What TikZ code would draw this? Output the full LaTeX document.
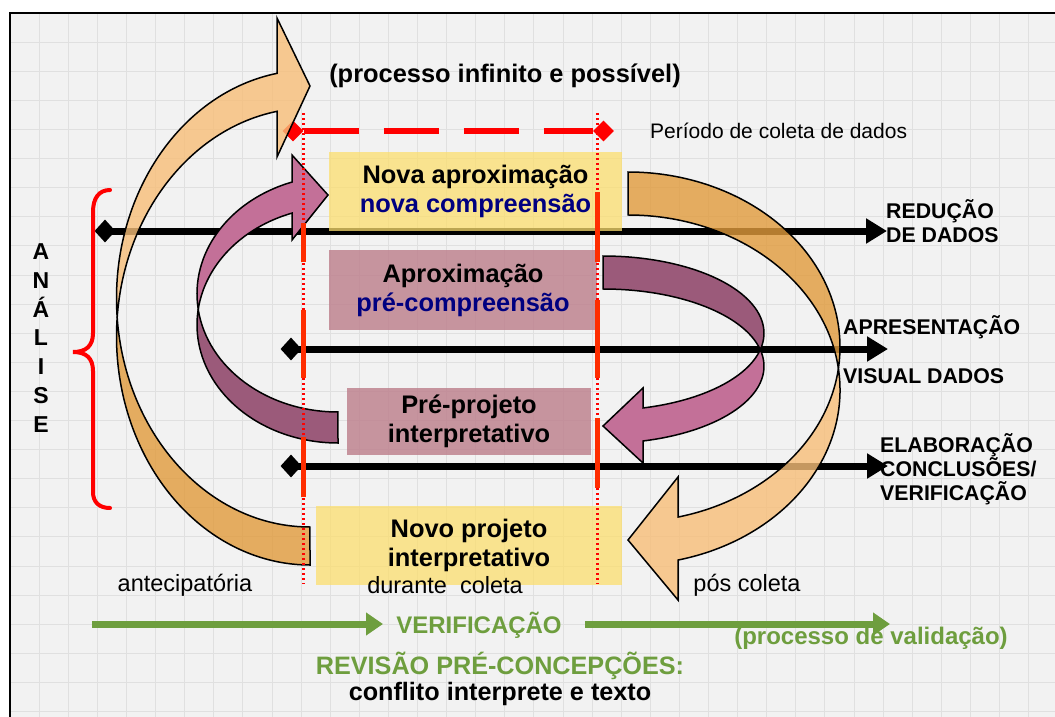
\documentclass[tikz,border=0pt]{standalone}
\usepackage{fontspec}
\setmainfont{Liberation Sans}
\usetikzlibrary{arrows.meta,shapes.geometric}
\definecolor{panelgray}{RGB}{242,242,242}
\definecolor{gridgray}{RGB}{224,224,224}
\definecolor{boxyellow}{RGB}{252,222,110}
\definecolor{boxmauve}{RGB}{188,125,138}
\definecolor{orangelight}{RGB}{247,190,120}
\definecolor{orangedark}{RGB}{225,155,60}
\definecolor{purplelight}{RGB}{195,112,152}
\definecolor{purpledark}{RGB}{155,90,122}
\definecolor{navytext}{RGB}{0,0,128}
\definecolor{verifgreen}{RGB}{110,158,62}
\definecolor{barred}{RGB}{255,45,0}

\begin{document}
\begin{tikzpicture}[x=1pt, y=-1pt,
        gridline/.style={draw=gridgray, line width=0.8pt},
        blackarrow/.style={line width=7pt, -{Triangle[length=21pt,width=24pt]}},
        blackdiamond/.style={shape=diamond, fill=black, inner sep=0pt, minimum width=21pt, minimum height=23pt},
        reddiamond/.style={shape=diamond, fill=red, inner sep=0pt, minimum width=21pt, minimum height=21pt},
        reddash/.style={red, line width=6pt, dash pattern=on 55pt off 25pt},
        reddots/.style={red, line width=2.2pt, dash pattern=on 2.2pt off 2.8pt},
        thickbar/.style={barred, line width=5.5pt},
        boxtext/.style={font=\bfseries\fontsize{25.4}{29}\selectfont, align=center},
        yellowbox/.style={boxtext, fill=boxyellow, fill opacity=0.75, text opacity=1, inner sep=0pt},
        mauvebox/.style={boxtext, fill=boxmauve, fill opacity=0.8, text opacity=1, inner sep=0pt},
        sidelabel/.style={font=\bfseries\fontsize{21.3}{24}\selectfont, align=left, anchor=west, inner sep=0pt},
        plainlabel/.style={font=\fontsize{23.5}{27}\selectfont, inner sep=0pt},
        greenarrow/.style={verifgreen, line width=7pt, -{Triangle[length=17pt,width=22pt]}},
        greenlabel/.style={text=verifgreen, font=\bfseries\fontsize{25.2}{28}\selectfont, inner sep=0pt},
        curvearrow/.style={draw=black, line width=1.5pt, line join=miter}]
        \useasboundingbox (0,0) rectangle (1055,717);
        \clip (0,0) rectangle (1055,717);
        % Panel and grid
        \fill[white] (0,0) rectangle (1055,717);
        \fill[panelgray] (10,13) rectangle (1070,730);
        \foreach \i in {1,...,36} {
          \draw[gridline] ({10+29.1*\i},13) -- ({10+29.1*\i},730);
        }
        \foreach \j in {1,...,24} {
          \draw[gridline] (10,{13+29.1*\j}) -- (1070,{13+29.1*\j});
        }
        \draw[line width=2pt] (10,13) rectangle (1070,730);
        % Black arrows
        \node[blackdiamond] (d1) at (105,231) {};
        \node[blackdiamond] (d2) at (291,349) {};
        \node[blackdiamond] (d3) at (291,466) {};
        \coordinate (e1) at (887,231);
        \coordinate (e2) at (888,349);
        \coordinate (e3) at (888,466);
        \draw[blackarrow] (d1.center) -- (e1);
        \draw[blackarrow] (d2.center) -- (e2);
        \draw[blackarrow] (d3.center) -- (e3);
        % Boxes
        \node[yellowbox, minimum width=293pt, minimum height=79pt] (novaaprox) at (475.5,191.5) {Nova aproximação\\\textcolor{navytext}{nova compreensão}};
        \node[mauvebox, minimum width=268pt, minimum height=80pt] (aprox) at (463,290) {Aproximação\\\textcolor{navytext}{pré-compreensão}};
        \node[mauvebox, minimum width=244pt, minimum height=67pt] (preproj) at (469,421.5) {Pré-projeto\\interpretativo};
        \node[yellowbox, minimum width=306pt, minimum height=79pt] (novoproj) at (469,545.5) {Novo projeto\\interpretativo};
        % Collection period
        \node[reddiamond] (rl) at (293,131) {};
        \node[reddiamond] (rr) at (603.5,131) {};
        \draw[reddash] (rl) -- (rr);
        % Curved arrows
        \filldraw[curvearrow, fill=orangelight, fill opacity=0.8] (310,86) -- (277,18) -- (277,73.35)
          arc[start angle=99.82, end angle=184.77, x radius=193.5pt, y radius=228.5pt]
          arc[start angle=175.23, end angle=99.82, x radius=193.5pt, y radius=228.5pt] -- (277,157) -- cycle;
        \filldraw[curvearrow, fill=orangedark, fill opacity=0.8] (117.17,317.5)
          arc[start angle=184.77, end angle=270, x radius=193.5pt, y radius=228.5pt] -- (310,565)
          arc[start angle=270, end angle=175.23, x radius=193.5pt, y radius=228.5pt] -- cycle;
        \filldraw[curvearrow, fill=orangedark, fill opacity=0.8] (628,172)
          arc[start angle=90, end angle=-7.057, x radius=212pt, y radius=175pt]
          arc[start angle=7.057, end angle=90, x radius=212pt, y radius=175pt] -- cycle;
        \filldraw[curvearrow, fill=orangelight, fill opacity=0.8] (628,540) -- (678,477) -- (678,517.06)
          arc[start angle=-76.36, end angle=-7.057, x radius=212pt, y radius=175pt]
          arc[start angle=7.057, end angle=-76.36, x radius=212pt, y radius=175pt] -- (678,600) -- cycle;
        \filldraw[curvearrow, fill=purplelight] (328,195) -- (292,155) -- (292,182.07)
          arc[start angle=109.04, end angle=187.54, x radius=141pt, y radius=118.2pt]
          arc[start angle=172.46, end angle=109.04, x radius=141pt, y radius=118.2pt] -- (292,240) -- cycle;
        \filldraw[curvearrow, fill=purpledark] (198.2,309.3)
          arc[start angle=187.54, end angle=270, x radius=141pt, y radius=118.2pt] -- (338,443)
          arc[start angle=270, end angle=172.46, x radius=141pt, y radius=118.2pt] -- cycle;
        \filldraw[curvearrow, fill=purpledark] (603,256)
          arc[start angle=90, end angle=-12.34, x radius=161pt, y radius=77.2pt]
          arc[start angle=12.34, end angle=90, x radius=161pt, y radius=77.2pt] -- cycle;
        \filldraw[curvearrow, fill=purplelight] (603,426) -- (643,388) -- (643,407.98)
          arc[start angle=-75.61, end angle=-12.34, x radius=161pt, y radius=77.2pt]
          arc[start angle=12.34, end angle=-75.61, x radius=161pt, y radius=77.2pt] -- (643,463) -- cycle;
        % Red markers
        \draw[reddots] (303.5,113) -- (303.5,584);
        \draw[reddots] (597.5,113) -- (597.5,584);
        \foreach \a/\b in {223/262, 310/378, 437/497} {
          \draw[thickbar] (303.5,\a) -- (303.5,\b);
        }
        \foreach \a/\b in {192/262, 300/378, 418/488} {
          \draw[thickbar] (597.5,\a) -- (597.5,\b);
        }
        % Brace
        \draw[red, line width=4pt, line cap=round] (110,190) .. controls (99,190) and (93,198) .. (93,212) -- (93,333)
          .. controls (93,346) and (86,352) .. (73,352) .. controls (86,352) and (93,358) .. (93,371) -- (93,492)
          .. controls (93,502) and (99,508) .. (110,508);
        % Labels
        \node[font=\bfseries\fontsize{23}{28.7}\selectfont, align=center, inner sep=0pt] (analise) at (41,338) {A\\N\\Á\\L\\I\\S\\E};
        \node[font=\bfseries\fontsize{25.4}{28}\selectfont, inner sep=0pt] (infinito) at (505,76) {(processo infinito e possível)};
        \node[font=\fontsize{21}{24}\selectfont, anchor=west, inner sep=0pt] (periodo) at (650,131) {Período de coleta de dados};
        \node[sidelabel] (reducao) at (886,221) {REDUÇÃO\\DE DADOS};
        \node[sidelabel] (apres) at (843,327) {APRESENTAÇÃO};
        \node[sidelabel] (visual) at (843,376) {VISUAL DADOS};
        \node[sidelabel] (elab) at (880,469) {ELABORAÇÃO\\CONCLUSÕES/\\VERIFICAÇÃO};
        \node[plainlabel] (antec) at (185,585) {antecipatória};
        \node[plainlabel] (durante) at (445,585) {durante\ \ coleta};
        \node[plainlabel] (pos) at (747,585) {pós coleta};
        % Verification
        \node[greenlabel, font=\bfseries\fontsize{24}{28}\selectfont] (verif) at (479,625) {VERIFICAÇÃO};
        \coordinate (g0) at (92,624);
        \coordinate (g1) at (383,624);
        \coordinate (g2) at (585,624);
        \coordinate (g3) at (890,624);
        \draw[greenarrow] (g0) -- (g1);
        \draw[greenarrow] (g2) -- (g3);
        \node[greenlabel, font=\bfseries\fontsize{24}{28}\selectfont] (valid) at (871,638) {(processo de validação)};
        \node[greenlabel] (revisao) at (500,666) {REVISÃO PRÉ-CONCEPÇÕES:};
        \node[font=\bfseries\fontsize{25.2}{28}\selectfont, inner sep=0pt] (conflito) at (500,694) {conflito interprete e texto};
\end{tikzpicture}
\end{document}
